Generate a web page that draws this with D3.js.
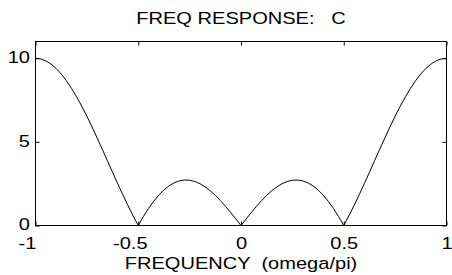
<!DOCTYPE html>
<html>
<head>
<meta charset="utf-8">
<script src="https://cdn.jsdelivr.net/npm/d3@7"></script>
<style>
    body { margin: 0; background: #fff; }
    text { font-family: "Liberation Sans", Arial, sans-serif; fill: #000; white-space: pre; }
</style>
</head>
<body>
<svg id="chart" width="452" height="275"></svg>
<script>
// Frequency axis (omega/pi)
const freq = [
    -1, -0.975, -0.95, -0.925, -0.9, -0.875, -0.85, -0.825, -0.8, -0.775,
    -0.75, -0.725, -0.7, -0.675, -0.65, -0.625, -0.6, -0.575, -0.55, -0.525,
    -0.5, -0.475, -0.45, -0.425, -0.4, -0.375, -0.35, -0.325, -0.3, -0.275,
    -0.25, -0.225, -0.2, -0.175, -0.15, -0.125, -0.1, -0.075, -0.05, -0.025,
    0, 0.025, 0.05, 0.075, 0.1, 0.125, 0.15, 0.175, 0.2, 0.225,
    0.25, 0.275, 0.3, 0.325, 0.35, 0.375, 0.4, 0.425, 0.45, 0.475,
    0.5, 0.525, 0.55, 0.575, 0.6, 0.625, 0.65, 0.675, 0.7, 0.725,
    0.75, 0.775, 0.8, 0.825, 0.85, 0.875, 0.9, 0.925, 0.95, 0.975, 1
];

// Magnitude
const magnitude = [
    10, 9.962, 9.846, 9.656, 9.393, 9.061, 8.664, 8.206, 7.694, 7.134,
    6.533, 5.898, 5.237, 4.559, 3.871, 3.182, 2.500, 1.833, 1.190, 0.576,
    0, 0.533, 1.016, 1.445, 1.816, 2.126, 2.372, 2.553, 2.668, 2.719,
    2.706, 2.632, 2.500, 2.314, 2.080, 1.802, 1.488, 1.143, 0.775, 0.391,
    0, 0.391, 0.775, 1.143, 1.488, 1.802, 2.080, 2.314, 2.500, 2.632,
    2.706, 2.719, 2.668, 2.553, 2.372, 2.126, 1.816, 1.445, 1.016, 0.533,
    0, 0.576, 1.190, 1.833, 2.500, 3.182, 3.871, 4.559, 5.237, 5.898,
    6.533, 7.134, 7.694, 8.206, 8.664, 9.061, 9.393, 9.656, 9.846, 9.962, 10
];

const xTicks = [-1, -0.5, 0, 0.5, 1];
const xTickLabels = ["-1", "-0.5", "0", "0.5", "1"];
const yTicks = [0, 5, 10];
const yTickLabels = ["0", "5", "10"];

const titleText = "FREQ RESPONSE:   C";
const xLabelText = "FREQUENCY  (omega/pi)";

const box = {left: 35.5, right: 446.5, top: 41.5, bottom: 225.5};
const stretch = 1.18;

const svg = d3.select("#chart");

const x = d3.scaleLinear().domain([-1, 1]).range([box.left, box.right]);
const y = d3.scaleLinear().domain([0, 11]).range([box.bottom, box.top]);

// Bottom axis with labels
const xAxis = svg.append("g")
    .attr("transform", `translate(0,${box.bottom})`)
    .call(d3.axisBottom(x)
        .tickValues(xTicks)
        .tickFormat((d, i) => xTickLabels[i])
        .tickSizeInner(-4)
        .tickSizeOuter(0));
xAxis.selectAll("text")
    .attr("dy", null)
    .attr("y", 23)
    .attr("dx", d => d < 0 ? -8.5 : 0);

// Top axis, ticks only
svg.append("g")
    .attr("transform", `translate(0,${box.top})`)
    .call(d3.axisTop(x).tickValues(xTicks).tickFormat("").tickSizeInner(-4).tickSizeOuter(0));

// Left axis with labels
const yAxis = svg.append("g")
    .attr("transform", `translate(${box.left},0)`)
    .call(d3.axisLeft(y)
        .tickValues(yTicks)
        .tickFormat((d, i) => yTickLabels[i])
        .tickSizeInner(-4)
        .tickSizeOuter(0)
        .tickPadding(5.5));
yAxis.selectAll("text").attr("dy", "0.26em");

// Right axis, ticks only
svg.append("g")
    .attr("transform", `translate(${box.right},0)`)
    .call(d3.axisRight(y).tickValues(yTicks).tickFormat("").tickSizeInner(-4).tickSizeOuter(0));

svg.selectAll(".domain").remove();
svg.selectAll(".tick line").attr("stroke", "#000");
svg.selectAll(".tick text").attr("font-size", 17).attr("font-family", null);

// Frame
svg.append("rect")
    .attr("x", box.left)
    .attr("y", box.top)
    .attr("width", box.right - box.left)
    .attr("height", box.bottom - box.top)
    .attr("fill", "none")
    .attr("stroke", "#000")
    .attr("stroke-width", 1);

// Curve
const line = d3.line()
    .x((d, i) => x(freq[i]))
    .y(d => y(d));

svg.append("path")
    .datum(magnitude)
    .attr("fill", "none")
    .attr("stroke", "#000")
    .attr("stroke-width", 1)
    .attr("d", line);

// Title and x label
svg.append("text")
    .attr("x", (box.left + box.right) / 2)
    .attr("y", 24)
    .attr("text-anchor", "middle")
    .attr("font-size", 17)
    .attr("xml:space", "preserve")
    .text(titleText);

svg.append("text")
    .attr("x", (box.left + box.right) / 2)
    .attr("y", 269)
    .attr("text-anchor", "middle")
    .attr("font-size", 17)
    .attr("xml:space", "preserve")
    .text(xLabelText);

// Widen the glyphs a bit to match the original's wider lettering
svg.selectAll("text").each(function() {
    const w = this.getComputedTextLength();
    if (w > 0) {
        d3.select(this)
            .attr("textLength", w * stretch)
            .attr("lengthAdjust", "spacingAndGlyphs");
    }
});
</script>
</body>
</html>
